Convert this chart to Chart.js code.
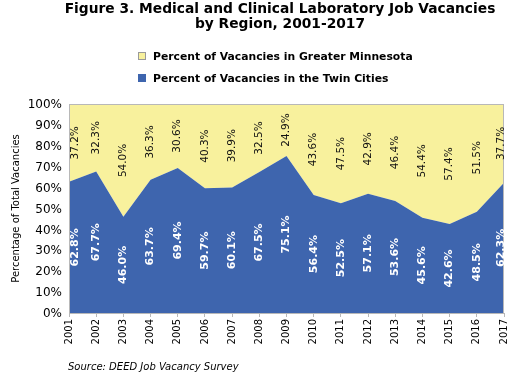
<!DOCTYPE html>
<html>
<head>
<meta charset="utf-8">
<script src="https://cdn.jsdelivr.net/npm/chart.js@4.4.0/dist/chart.umd.min.js"></script>
<style>
  html, body { margin: 0; padding: 0; background: #fff; }
  #wrap { position: relative; width: 514px; height: 374px; overflow: hidden; font-family: "DejaVu Sans", Verdana, sans-serif; }
  #c { position: absolute; left: 0; top: 0; }
  .title { position: absolute; left: 0; width: 514px; text-align: center; font-weight: bold; font-size: 13.8px; color: #000; padding-left: 46px; box-sizing: border-box; }
  .leg { position: absolute; left: 138px; font-size: 10.8px; font-weight: bold; color: #000; white-space: nowrap; }
  .leg span.box { display: inline-block; width: 8px; height: 8px; border: 1px solid #9a9a9a; margin-right: 7px; vertical-align: 0px; box-sizing: border-box; }
  .src { position: absolute; left: 68px; top: 361px; font-size: 10px; font-style: italic; color: #000; }
</style>
</head>
<body>
<div id="wrap">
  <canvas id="c" width="514" height="374"></canvas>
  <div class="title" style="top:0px;">Figure 3. Medical and Clinical Laboratory Job Vacancies</div>
  <div class="title" style="top:15px;">by Region, 2001-2017</div>
  <div class="leg" style="top:50px;"><span class="box" style="background:#F8F19D;"></span>Percent of Vacancies in Greater Minnesota</div>
  <div class="leg" style="top:72px;"><span class="box" style="background:#3E65AE;border-color:#3E65AE;"></span>Percent of Vacancies in the Twin Cities</div>
  <div class="src">Source: DEED Job Vacancy Survey</div>
</div>
<script>
const years = ["2001","2002","2003","2004","2005","2006","2007","2008","2009","2010","2011","2012","2013","2014","2015","2016","2017"];
const twinCities = [62.8, 67.7, 46.0, 63.7, 69.4, 59.7, 60.1, 67.5, 75.1, 56.4, 52.5, 57.1, 53.6, 45.6, 42.6, 48.5, 62.3];
const greaterMN = [37.2, 32.3, 54.0, 36.3, 30.6, 40.3, 39.9, 32.5, 24.9, 43.6, 47.5, 42.9, 46.4, 54.4, 57.4, 51.5, 37.7];
const yTicks = [0, 10, 20, 30, 40, 50, 60, 70, 80, 90, 100];

const BLUE = '#3E65AE';
const YELLOW = '#F8F19D';

const borderPlugin = {
  id: 'plotBorder',
  afterDatasetsDraw(chart) {
    const a = chart.chartArea, ctx = chart.ctx;
    ctx.save();
    ctx.strokeStyle = '#b8b8b8';
    ctx.lineWidth = 1;
    ctx.strokeRect(Math.round(a.left) + 0.5, Math.round(a.top) + 0.5, Math.round(a.right - a.left) - 1, Math.round(a.bottom - a.top));
    ctx.restore();
  }
};

const labelPlugin = {
  id: 'valueLabels',
  afterDatasetsDraw(chart) {
    const ctx = chart.ctx, a = chart.chartArea, ys = chart.scales.y;
    ctx.save();
    ctx.beginPath();
    ctx.rect(a.left, a.top, a.right - a.left, a.bottom - a.top);
    ctx.clip();
    chart.data.datasets.forEach((ds, di) => {
      const meta = chart.getDatasetMeta(di);
      meta.data.forEach((pt, i) => {
        let base = 0;
        for (let k = 0; k < di; k++) base += chart.data.datasets[k].data[i];
        const v = ds.data[i];
        const y = ys.getPixelForValue(base + v / 2);
        let x = pt.x;
        if (i === 0) x += 6;
        if (i === ds.data.length - 1) x -= 3;
        ctx.save();
        ctx.translate(x, y);
        ctx.rotate(-Math.PI / 2);
        ctx.textAlign = 'center';
        ctx.textBaseline = 'middle';
        if (di === 0) {
          ctx.font = 'bold 11px "DejaVu Sans"';
          ctx.fillStyle = '#ffffff';
        } else {
          ctx.font = '10.5px "DejaVu Sans"';
          ctx.fillStyle = '#111111';
        }
        ctx.fillText(v.toFixed(1) + '%', 0, 0);
        ctx.restore();
      });
    });
    ctx.restore();
  }
};

new Chart(document.getElementById('c'), {
  type: 'line',
  data: {
    labels: years,
    datasets: [
      { label: 'Percent of Vacancies in the Twin Cities', data: twinCities, backgroundColor: BLUE, borderWidth: 0, pointRadius: 0, fill: 'origin', tension: 0 },
      { label: 'Percent of Vacancies in Greater Minnesota', data: greaterMN, backgroundColor: YELLOW, borderWidth: 0, pointRadius: 0, fill: '-1', tension: 0 }
    ]
  },
  options: {
    responsive: false,
    animation: false,
    events: [],
    layout: { padding: { top: 104, right: 10, left: 0, bottom: 20 } },
    plugins: { legend: { display: false }, tooltip: { enabled: false } },
    scales: {
      x: {
        offset: false,
        grid: { display: true, drawOnChartArea: false, drawTicks: true, tickLength: 4, color: '#b8b8b8' },
        border: { display: true, color: '#b8b8b8' },
        ticks: { minRotation: 90, maxRotation: 90, autoSkip: false, padding: 2, color: '#000', font: { family: 'DejaVu Sans', size: 10 } },
        afterFit(s) { s.height = 41; s.paddingLeft = 0; s.paddingRight = 0; }
      },
      y: {
        stacked: true,
        min: 0, max: 100,
        afterBuildTicks(s) { s.ticks = yTicks.map(v => ({ value: v })); },
        grid: { display: false, drawTicks: false },
        border: { display: true, color: '#b8b8b8' },
        ticks: { padding: 7, labelOffset: 1, color: '#000', font: { family: 'DejaVu Sans', size: 12 }, callback: v => v + '%' },
        title: { display: true, text: 'Percentage of Total Vacancies', color: '#000', font: { family: 'DejaVu Sans', size: 10 }, padding: { top: 10, bottom: 0 } },
        afterFit(s) { s.width = 69; s.paddingTop = 0; s.paddingBottom = 0; }
      }
    }
  },
  plugins: [borderPlugin, labelPlugin]
});
</script>
</body>
</html>
